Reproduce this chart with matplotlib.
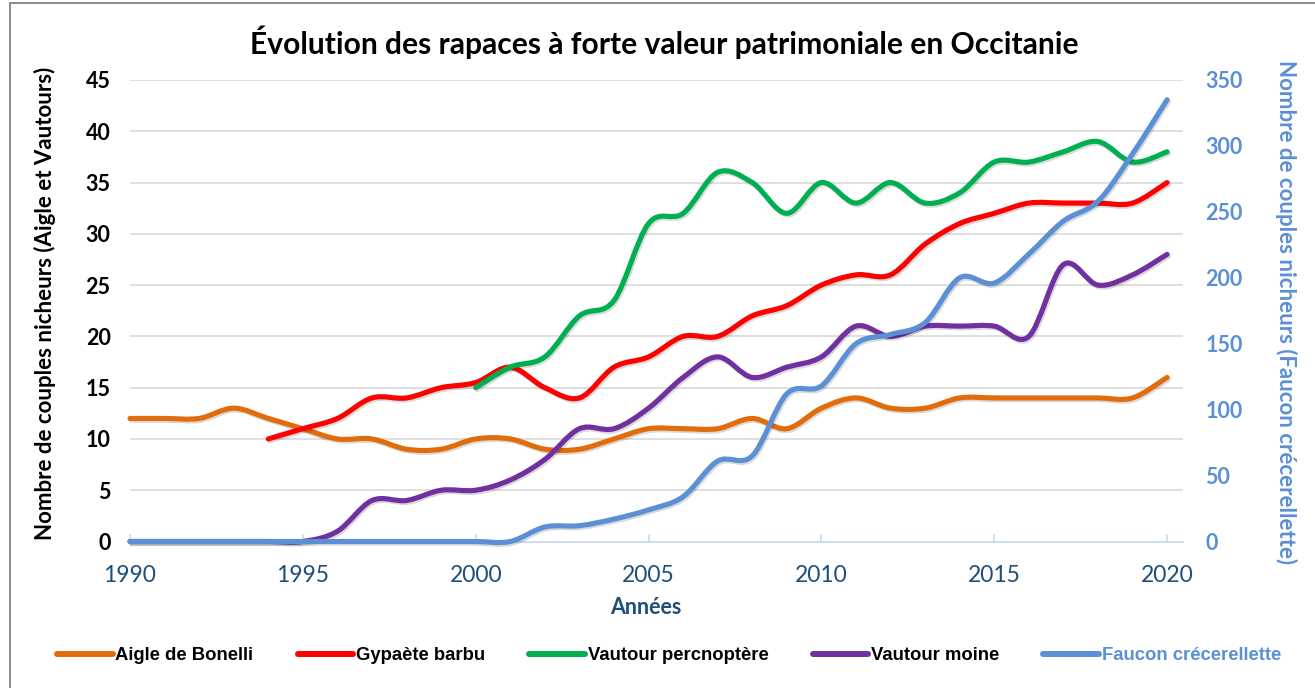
import numpy as np
import matplotlib
matplotlib.use("Agg")
import matplotlib.pyplot as plt
from matplotlib.path import Path
from matplotlib.patches import PathPatch, Rectangle
from matplotlib.lines import Line2D
import matplotlib.patheffects as pe

# Données
annees = list(range(1990, 2021))

aigle_bonelli = [12, 12, 12, 13, 12, 11, 10, 10, 9, 9, 10, 10, 9, 9, 10, 11,
                 11, 11, 12, 11, 13, 14, 13, 13, 14, 14, 14, 14, 14, 14, 16]

annees_gypaete = list(range(1994, 2021))
gypaete_barbu = [10, 11, 12, 14, 14, 15, 15.5, 17, 15, 14, 17, 18, 20, 20, 22,
                 23, 25, 26, 26, 29, 31, 32, 33, 33, 33, 33, 35]

annees_percnoptere = list(range(2000, 2021))
vautour_percnoptere = [15, 17, 18, 22, 23.5, 31, 32, 36, 35, 32, 35, 33, 35, 33,
                       34, 37, 37, 38, 39, 37, 38]

vautour_moine = [0, 0, 0, 0, 0, 0, 1, 4, 4, 5, 5, 6, 8, 11, 11, 13, 16, 18, 16,
                 17, 18, 21, 20, 21, 21, 21, 20, 27, 25, 26, 28]

faucon_crecerellette = [0, 0, 0, 0, 0, 0, 0, 0, 0, 0, 0, 0, 11, 12, 17, 24, 34,
                        61, 65, 112, 118, 150, 157, 166, 200, 196, 218, 243,
                        258, 294, 335]

couleurs = {
    "Aigle de Bonelli": "#E36C0A",
    "Gypaète barbu": "#FF0000",
    "Vautour percnoptère": "#00B050",
    "Vautour moine": "#7030A0",
    "Faucon crécerellette": "#5B8FD6",
}

bleu_fonce = "#1F4E79"
bleu_clair = "#5B8FD6"


def courbe_lissee(ax, x, y, couleur):
    # ligne lissée façon Excel (Bézier de Catmull-Rom)
    pts = np.column_stack([x, y]).astype(float)
    pts_ext = np.vstack([pts[0], pts, pts[-1]])
    verts = [tuple(pts[0])]
    codes = [Path.MOVETO]
    for i in range(len(pts) - 1):
        p0, p1, p2, p3 = pts_ext[i], pts_ext[i + 1], pts_ext[i + 2], pts_ext[i + 3]
        c1 = p1 + (p2 - p0) / 6
        c2 = p2 - (p3 - p1) / 6
        verts += [tuple(c1), tuple(c2), tuple(p2)]
        codes += [Path.CURVE4] * 3
    patch = PathPatch(Path(verts, codes), fill=False, edgecolor=couleur,
                      lw=3.7, capstyle="round", joinstyle="round",
                      clip_on=False, zorder=3)
    patch.set_path_effects([pe.SimpleLineShadow(offset=(1.0, -1.3), alpha=0.15),
                            pe.Normal()])
    ax.add_patch(patch)


plt.rcParams["font.family"] = ["Lato", "DejaVu Sans"]

fig = plt.figure(figsize=(13.15, 6.88), dpi=100)
ax = fig.add_axes([130 / 1315, 1 - 541.5 / 688, 1053 / 1315, 461.5 / 688])
ax2 = ax.twinx()

courbe_lissee(ax, annees, aigle_bonelli, couleurs["Aigle de Bonelli"])
courbe_lissee(ax, annees_gypaete, gypaete_barbu, couleurs["Gypaète barbu"])
courbe_lissee(ax, annees_percnoptere, vautour_percnoptere, couleurs["Vautour percnoptère"])
courbe_lissee(ax, annees, vautour_moine, couleurs["Vautour moine"])
courbe_lissee(ax2, annees, faucon_crecerellette, couleurs["Faucon crécerellette"])

ax.set_xlim(1990, 2020.46)
ax.set_ylim(0, 45)
ax2.set_ylim(0, 350)
ax.set_yticks(np.arange(0, 46, 5))
ax2.set_yticks(np.arange(0, 351, 50))
ax.set_xticks(np.arange(1990, 2021, 5))

ax.grid(axis="y", color="#D9D9D9", lw=1.2)
ax.set_axisbelow(True)
for a in (ax, ax2):
    for s in ("left", "right", "top"):
        a.spines[s].set_visible(False)
ax2.spines["bottom"].set_visible(False)
ax.spines["bottom"].set_color("#CDDAF0")
ax.spines["bottom"].set_linewidth(1.3)

ax.tick_params(axis="x", direction="in", length=6, width=1.2, color="#CDDAF0",
               pad=17, labelsize=16.5, labelcolor=bleu_fonce)
ax.tick_params(axis="y", length=0, pad=14, labelsize=15.5)
ax2.tick_params(axis="y", length=0, pad=16, labelsize=15.5, labelcolor=bleu_clair)
for t in ax.get_yticklabels():
    t.set_fontweight("bold")
for t in ax2.get_yticklabels():
    t.set_fontweight("bold")

fig.text(664 / 1315, 1 - 42 / 688,
         "Évolution des rapaces à forte valeur patrimoniale en Occitanie",
         ha="center", va="center", fontsize=21.6, fontweight="bold")
fig.text(646 / 1315, 1 - 607 / 688, "Années", ha="center", va="center",
         fontsize=15.5, fontweight="bold", color=bleu_fonce)
fig.text(45 / 1315, 1 - 303 / 688, "Nombre de couples nicheurs (Aigle et Vautours)",
         ha="center", va="center", rotation=90, fontsize=16, fontweight="bold")
fig.text(1286 / 1315, 1 - 312 / 688,
         "Nombre de couples nicheurs (Faucon crécerellette)",
         ha="center", va="center", rotation=-90, fontsize=16, fontweight="bold",
         color=bleu_clair)

# légende
poignees = [Line2D([], [], color=c, lw=4.3, solid_capstyle="round") for c in couleurs.values()]
leg = fig.legend(poignees, list(couleurs.keys()), loc="center",
                 bbox_to_anchor=(669 / 1315, 1 - 656 / 688), ncol=5, frameon=False,
                 handlelength=3.0, handletextpad=0.15, columnspacing=2.4,
                 prop={"family": "Liberation Sans", "weight": "bold", "size": 13.3})
leg.get_texts()[-1].set_color(bleu_clair)

# cadre de la zone de graphique
fig.patches.append(Rectangle((10 / 1315, -0.1), 1.2, 1.1 - 3 / 688, transform=fig.transFigure,
                             fill=False, edgecolor="#8C8C8C", lw=1.4))

fig.savefig("out.png", dpi=100)
